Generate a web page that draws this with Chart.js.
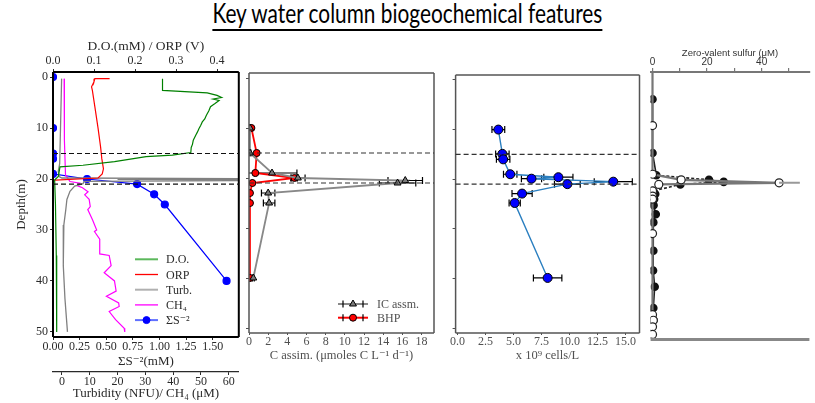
<!DOCTYPE html>
<html>
<head>
<meta charset="utf-8">
<script src="https://cdn.jsdelivr.net/npm/chart.js@4.4.0/dist/chart.umd.min.js"></script>
<style>
  body { margin: 0; background: #fff; width: 815px; height: 403px; overflow: hidden; position: relative; }
  #title { position: absolute; left: 0; top: -2px; width: 815px; text-align: center; font-family: Lato, 'Open Sans', sans-serif; font-size: 26px; line-height: 30px; color: #000; }
  #title span { display: inline-block; text-decoration: underline; text-underline-offset: 6px; text-decoration-thickness: 1.5px; transform-origin: center; }
  canvas { position: absolute; }
</style>
</head>
<body>
<div id="title"><span>Key water column biogeochemical features</span></div>
<canvas id="c1" width="244" height="373" style="left:0;top:30px"></canvas>
<canvas id="c2" width="200" height="345" style="left:244px;top:30px"></canvas>
<canvas id="c3" width="195" height="345" style="left:450px;top:30px"></canvas>
<canvas id="c4" width="170" height="305" style="left:645px;top:40px"></canvas>
<script>
// ---- panel 1: profiles ----
const doDepth = [0.3, 2.6, 3.1, 3.6, 4.0, 4.3, 4.6, 5.2, 5.8, 6.6, 7.5, 8.2, 8.8, 9.5, 10.1, 10.8, 11.4, 12.4, 13.2, 13.8, 14.8, 15.3, 15.6, 16.6, 17.3, 17.6, 19.5, 20.2, 25, 35, 50];
const doVal = [0.267, 0.267, 0.376, 0.40, 0.411, 0.39, 0.405, 0.395, 0.384, 0.38, 0.374, 0.37, 0.364, 0.36, 0.356, 0.352, 0.348, 0.342, 0.34, 0.337, 0.336, 0.291, 0.227, 0.15, 0.073, 0.017, 0.013, 0.004, 0.006, 0.008, 0.009];
const orpDepth = [0.3, 0.3, 0.9, 1.9, 2.6, 5.8, 10.1, 13.7, 16, 18, 19, 19.8, 20.2, 20.5, 50];
const orpVal = [0.138, 0.102, 0.10, 0.094, 0.096, 0.102, 0.11, 0.116, 0.119, 0.123, 0.12, 0.11, 0.005, -0.02, -0.02];
const turbDepth = [0.3, 10, 17, 18.5, 19.5, 19.8, 19.95, 20.05, 20.15, 20.3, 20.45, 20.9, 21.4, 22.4, 24, 26, 29, 37, 43.5, 50];
const turbVal = [-0.1, -0.5, -0.8, -1.3, -1.0, 0, 70, 20, 70, 70, 8, 7.6, 4.6, 2.9, 1.8, 1.4, 0.7, 0.5, 1.1, 2.0];
const ch4Depth = [0.3, 12.4, 19.2, 20.5, 20.8, 21.3, 21.7, 22.5, 23.1, 24, 25.4, 26, 28, 30, 30.3, 31.8, 34.7, 35, 37, 38.4, 40, 42, 43, 44.3, 45, 46, 47.6, 49.3, 50];
const ch4Val = [0.8, 0.9, 1.3, 2.9, 6.4, 5.5, 7.4, 9.4, 8.2, 9.8, 10.2, 9.3, 11, 12.5, 11.7, 13.6, 13.6, 17, 17.7, 15.2, 18.9, 19.5, 16, 20.4, 20.6, 17, 19.3, 22.4, 22.6];
const sulfDepth = [0, 10, 15, 16, 19, 20, 21, 23, 25, 40];
const sulfVal = [0, 0, 0, 0, 0, 0.32, 0.79, 0.95, 1.05, 1.63];
const chemoclineDepths = [15, 21];

// ---- panel 2: carbon assimilation ----
const icDepth = [10, 15, 19, 20, 20.5, 21, 23, 25, 40];
const icVal = [0.1, 0.1, 2.4, 5.1, 16.3, 15.5, 2.0, 2.1, 0.45];
const icErr = [0.05, 0.1, 2.6, 0.75, 1.8, 1.9, 0.7, 0.6, 0.1];
const bhpDepth = [10, 15, 19, 20, 21, 23, 25, 40];
const bhpVal = [0.25, 0.8, 0.66, 4.75, 0.35, 0.1, 0.1, 0.1];
const bhpErr = [0.05, 0.1, 0.1, 0.3, 0.05, 0.02, 0.02, 0.02];

// ---- panel 3: cell counts ----
const cellDepth = [10, 14.9, 16, 19, 19.6, 19.9, 20.5, 21, 22.9, 24.8, 39.9];
const cellVal = [3.64, 4.0, 4.07, 4.7, 9.0, 6.6, 13.9, 9.8, 5.76, 5.1, 8.04];
const cellErr = [0.57, 0.6, 0.6, 0.6, 1.3, 0.9, 1.7, 1.15, 0.9, 0.5, 1.27];

// ---- panel 4: zero-valent sulfur ----
const zvsFillDepth = [3.8, 14.4, 18.8, 19.7, 20.1, 20.6, 21.9, 22.5, 23.5, 24.7, 26.5, 28.1, 33.7, 37.6, 40.8, 45, 47.4];
const zvsFillVal = [0, 0, 1.4, 20.7, 26.1, 10.2, 0.3, 1.0, 0.6, 0.4, 1.2, 0.3, 0.3, 0.2, 0.8, 0.3, 0.4];
const zvsOpenDepth = [-1.5, 9, 18.6, 19.7, 20.3, 20.6, 21.9, 22.9, 23.5, 30.3, 46.3, 47.4, 48.7, 50.2];
const zvsOpenVal = [0, 0, 0, 10.5, 46.4, 2.3, 0, 0, 0, 0, 0, 0.3, 0, 0];
const zvsTailDepth = [20.3, 20.3];
const zvsTailVal = [46.4, 54];

const serif = "'Liberation Serif','DejaVu Serif',serif";
const sans = "'Liberation Sans',Arial,sans-serif";
const pts = (xs, ys) => xs.map((v, i) => ({x: v, y: ys[i]}));

const boxPlugin = {
  id: 'box',
  afterDatasetsDraw(chart, args, o) {
    if (!o.color) return;
    const {ctx, chartArea: a} = chart;
    ctx.save();
    ctx.strokeStyle = o.color;
    ctx.lineWidth = o.width;
    ctx.beginPath();
    const s = o.sides || 'tlrb';
    if (s.includes('t')) { ctx.moveTo(a.left, a.top); ctx.lineTo(a.right, a.top); }
    if (s.includes('b')) { ctx.moveTo(a.left, a.bottom); ctx.lineTo(a.right, a.bottom); }
    if (s.includes('l')) { ctx.moveTo(a.left, a.top); ctx.lineTo(a.left, a.bottom); }
    if (s.includes('r')) { ctx.moveTo(a.right, a.top); ctx.lineTo(a.right, a.bottom); }
    ctx.stroke();
    ctx.restore();
  }
};

const hlinePlugin = {
  id: 'hlines',
  afterDatasetsDraw(chart, args, o) {
    if (!o.depths) return;
    const {ctx, chartArea: a} = chart;
    const y = chart.scales.y;
    ctx.save();
    ctx.strokeStyle = o.color || '#222';
    ctx.lineWidth = 1.1;
    ctx.setLineDash([5, 3]);
    o.depths.forEach(d => {
      const py = y.getPixelForValue(d);
      ctx.beginPath(); ctx.moveTo(a.left, py); ctx.lineTo(a.right, py); ctx.stroke();
    });
    ctx.restore();
  }
};

const errPlugin = {
  id: 'errbars',
  beforeDatasetsDraw(chart) {
    const {ctx, chartArea: a} = chart;
    ctx.save();
    ctx.beginPath(); ctx.rect(a.left, a.top, a.right - a.left, a.bottom - a.top); ctx.clip();
    chart.data.datasets.forEach(ds => {
      if (!ds.errX) return;
      const xs = chart.scales[ds.xAxisID || 'x'], ys = chart.scales.y;
      ctx.strokeStyle = ds.errColor || '#000';
      ctx.lineWidth = 1.2;
      ds.data.forEach((p, i) => {
        const e = ds.errX[i];
        const x0 = xs.getPixelForValue(p.x - e), x1 = xs.getPixelForValue(p.x + e), py = ys.getPixelForValue(p.y);
        ctx.beginPath();
        ctx.moveTo(x0, py); ctx.lineTo(x1, py);
        ctx.moveTo(x0, py - 3.5); ctx.lineTo(x0, py + 3.5);
        ctx.moveTo(x1, py - 3.5); ctx.lineTo(x1, py + 3.5);
        ctx.stroke();
      });
    });
    ctx.restore();
  }
};

const keyPlugin = {
  id: 'keys',
  afterDraw(chart, args, o) {
    if (!o.items) return;
    const {ctx, chartArea: a} = chart;
    ctx.save();
    ctx.font = o.font;
    ctx.textBaseline = 'middle';
    o.items.forEach((it, i) => {
      const x0 = a.left + o.x, x1 = x0 + o.len, y = a.top + o.y + i * o.dy;
      ctx.strokeStyle = it.color; ctx.lineWidth = it.width || 2;
      ctx.beginPath(); ctx.moveTo(x0, y); ctx.lineTo(x1, y); ctx.stroke();
      const mx = (x0 + x1) / 2;
      if (it.caps) {
        ctx.strokeStyle = '#000'; ctx.lineWidth = 1.2;
        ctx.beginPath();
        [mx - it.caps, mx + it.caps].forEach(cx => { ctx.moveTo(cx, y - 3.5); ctx.lineTo(cx, y + 3.5); });
        ctx.stroke();
      }
      if (it.marker) {
        ctx.fillStyle = it.fill; ctx.strokeStyle = it.edge || it.fill; ctx.lineWidth = 1;
        Chart.helpers.drawPoint(ctx, {pointStyle: it.marker, radius: it.r || 3.5, borderWidth: 1, rotation: 0}, mx, y);
      }
      ctx.fillStyle = o.textColor;
      ctx.fillText(it.label, x1 + o.gap, y + 1);
    });
    ctx.restore();
  }
};

const plugins = [boxPlugin, hlinePlugin, errPlugin, keyPlugin];
const depthAxis = (width, labels, color) => ({
  type: 'linear', reverse: true, min: -1, max: 51,
  ticks: {stepSize: 10, includeBounds: false, padding: 2, color, font: {family: serif, size: 12}, callback: v => labels ? v : ''},
  grid: {drawOnChartArea: false, tickLength: 3, color},
  border: {display: false},
  afterFit: s => { s.width = width; }
});
const common = {responsive: false, animation: false, events: []};

// ---- chart 1 ----
const dark = '#2a2a2a';
const p1y = depthAxis(53, true, dark);
p1y.title = {display: true, text: 'Depth(m)', color: dark, font: {family: serif, size: 13}, padding: {top: 14, bottom: 0}};
new Chart(document.getElementById('c1'), {
  type: 'scatter',
  plugins,
  data: {datasets: [
    {data: pts(doVal, doDepth), xAxisID: 'xTop', borderColor: '#008000', borderWidth: 1.2, pointRadius: 0, showLine: true},
    {data: pts(orpVal, orpDepth), xAxisID: 'xTop', borderColor: '#ff0000', borderWidth: 1.2, pointRadius: 0, showLine: true},
    {data: pts(turbVal, turbDepth), xAxisID: 'xTurb', borderColor: '#808080', borderWidth: 1.3, pointRadius: 0, showLine: true},
    {data: pts(ch4Val, ch4Depth), xAxisID: 'xTurb', borderColor: '#ff00ff', borderWidth: 1.2, pointRadius: 0, showLine: true},
    {data: pts(sulfVal, sulfDepth), xAxisID: 'x', borderColor: '#0000ff', backgroundColor: '#0000ff', borderWidth: 1.2, pointRadius: 3.5, showLine: true}
  ]},
  options: {
    ...common,
    layout: {padding: {left: 0, right: 4, top: 0, bottom: 0}},
    scales: {
      y: p1y,
      xTop: {
        type: 'linear', position: 'top', min: 0, max: 0.453,
        ticks: {stepSize: 0.1, includeBounds: false, padding: 1, color: dark, font: {family: serif, size: 12}, callback: v => v.toFixed(1)},
        grid: {drawOnChartArea: false, tickLength: 3, color: dark}, border: {display: false},
        title: {display: true, text: 'D.O.(mM) / ORP (V)', color: dark, font: {family: serif, size: 13.5}, padding: {top: 8, bottom: 0}},
        afterFit: s => { s.height = 42; }
      },
      x: {
        type: 'linear', position: 'bottom', weight: 0, min: 0, max: 1.745,
        ticks: {stepSize: 0.25, includeBounds: false, padding: 0, color: dark, font: {family: serif, size: 12}, callback: v => v.toFixed(2)},
        grid: {drawOnChartArea: false, tickLength: 3, color: dark}, border: {display: false},
        title: {display: true, text: 'ΣS⁻²(mM)', color: dark, font: {family: serif, size: 13}, padding: {top: 0, bottom: 3}},
        afterFit: s => { s.height = 35; }
      },
      xTurb: {
        type: 'linear', position: 'bottom', weight: 1, min: -3.2, max: 63.6,
        ticks: {stepSize: 10, includeBounds: false, padding: 0, color: dark, font: {family: serif, size: 12}},
        grid: {drawOnChartArea: false, tickLength: 3, color: dark}, border: {display: true, color: dark, width: 1.2},
        title: {display: true, text: 'Turbidity (NFU)/ CH₄ (μM)', color: dark, font: {family: serif, size: 13}, padding: {top: 0, bottom: 2}},
        afterFit: s => { s.height = 31; }
      }
    },
    plugins: {
      legend: {display: false}, tooltip: {enabled: false},
      box: {color: '#000', width: 2},
      hlines: {depths: chemoclineDepths, color: '#111'},
      keys: {
        x: 82, y: 187.3, dy: 15.2, len: 23, gap: 8, font: `12px ${serif}`, textColor: dark,
        items: [
          {label: 'D.O.', color: '#5cb85c'},
          {label: 'ORP', color: '#ff0000', width: 1.3},
          {label: 'Turb.', color: '#b0b0b0'},
          {label: 'CH₄', color: '#ff00ff', width: 1.3},
          {label: 'ΣS⁻²', color: '#6070ff', marker: 'circle', fill: '#0000ff', r: 3.5}
        ]
      }
    }
  }
});

// ---- chart 2 ----
const mid = '#505050';
new Chart(document.getElementById('c2'), {
  type: 'scatter',
  plugins,
  data: {datasets: [
    {data: pts(icVal, icDepth), errX: icErr, borderColor: '#888', borderWidth: 1.8, pointStyle: 'triangle', pointRadius: 4,
     backgroundColor: '#7a7a7a', pointBorderColor: '#000', pointBorderWidth: 1, showLine: true},
    {data: pts(bhpVal, bhpDepth), errX: bhpErr, borderColor: '#ff0000', borderWidth: 1.8, pointRadius: 3.5,
     backgroundColor: '#ff0000', pointBorderColor: '#000', pointBorderWidth: 1, showLine: true}
  ]},
  options: {
    ...common,
    layout: {padding: {left: 0, right: 10, top: 43, bottom: 0}},
    scales: {
      y: depthAxis(4, false, mid),
      x: {
        type: 'linear', position: 'bottom', min: 0, max: 19.3,
        ticks: {stepSize: 2, includeBounds: false, padding: 0, color: mid, font: {family: serif, size: 12}},
        grid: {drawOnChartArea: false, tickLength: 2, color: mid}, border: {display: false},
        title: {display: true, text: 'C assim. (μmoles C L⁻¹ d⁻¹)', color: mid, font: {family: serif, size: 12.5}, padding: {top: 0, bottom: 12}},
        afterFit: s => { s.height = 42; }
      }
    },
    plugins: {
      legend: {display: false}, tooltip: {enabled: false},
      box: {color: '#555', width: 1.5},
      hlines: {depths: chemoclineDepths, color: '#333'},
      keys: {
        x: 89, y: 231, dy: 13.7, len: 30, gap: 9, font: `12px ${serif}`, textColor: mid,
        items: [
          {label: 'IC assm.', color: '#888', caps: 10, marker: 'triangle', fill: '#7a7a7a', edge: '#000', r: 4},
          {label: 'BHP', color: '#ff0000', caps: 10, marker: 'circle', fill: '#ff0000', edge: '#000', r: 3.5}
        ]
      }
    }
  }
});

// ---- chart 3 ----
new Chart(document.getElementById('c3'), {
  type: 'scatter',
  plugins,
  data: {datasets: [
    {data: pts(cellVal, cellDepth), errX: cellErr, borderColor: '#2b7fc0', borderWidth: 1.4, pointRadius: 4.5,
     backgroundColor: '#0000ff', pointBorderColor: '#000', pointBorderWidth: 1, showLine: true}
  ]},
  options: {
    ...common,
    layout: {padding: {left: 0, right: 5, top: 45, bottom: 0}},
    scales: {
      y: depthAxis(2, false, mid),
      x: {
        type: 'linear', position: 'bottom', min: -0.175, max: 16.24,
        ticks: {stepSize: 2.5, includeBounds: false, padding: 0, color: mid, font: {family: serif, size: 12}, callback: v => v.toFixed(1)},
        grid: {drawOnChartArea: false, tickLength: 2, color: mid}, border: {display: false},
        title: {display: true, text: 'x 10⁹ cells/L', color: mid, font: {family: serif, size: 12.5}, padding: {top: 0, bottom: 12}},
        afterFit: s => { s.height = 42; }
      }
    },
    plugins: {
      legend: {display: false}, tooltip: {enabled: false},
      box: {color: '#555', width: 1.5},
      hlines: {depths: chemoclineDepths, color: '#333'}
    }
  }
});

// ---- chart 4 ----
new Chart(document.getElementById('c4'), {
  type: 'scatter',
  plugins,
  data: {datasets: [
    {data: pts(zvsTailVal, zvsTailDepth), borderColor: '#999', borderWidth: 2, pointRadius: 0, showLine: true},
    {data: pts(zvsOpenVal, zvsOpenDepth), borderColor: '#777', borderWidth: 2.2, pointRadius: zvsOpenDepth.map(d => (d < 0 ? 0 : 4)),
     backgroundColor: '#fff', pointBorderColor: '#222', pointBorderWidth: 1.2, showLine: true},
    {data: pts(zvsFillVal, zvsFillDepth), borderColor: '#222', borderWidth: 1.6, pointRadius: 3.5,
     backgroundColor: '#111', pointBorderColor: '#111', showLine: true,
     segment: {borderDash: c => (Math.max(c.p0.parsed.x, c.p1.parsed.x) > 5 ? [3, 2] : undefined)}}
  ]},
  options: {
    ...common,
    layout: {padding: {left: 3, right: 0, top: 0, bottom: 4}},
    scales: {
      y: {type: 'linear', reverse: true, min: -1.57, max: 51.18, display: false},
      x: {
        type: 'linear', position: 'top', min: -0.7, max: 57.5,
        ticks: {stepSize: 10, includeBounds: false, padding: 0, color: '#333', font: {family: sans, size: 10}, callback: v => (v % 20 === 0 ? v : '')},
        grid: {drawOnChartArea: false, tickLength: 4, color: '#777', lineWidth: 1.2}, border: {display: true, color: '#777', width: 2},
        title: {display: true, text: 'Zero-valent sulfur (μM)', color: '#333', font: {family: sans, size: 9.5}, padding: {top: 8, bottom: 0}},
        afterFit: s => { s.height = 32; }
      }
    },
    plugins: {
      legend: {display: false}, tooltip: {enabled: false},
      box: {color: '#888', width: 3, sides: 'b'}
    }
  }
});

// fit the heading to the width it has in the figure
const head = document.querySelector('#title span');
head.style.transform = `scaleX(${390 / head.getBoundingClientRect().width})`;
</script>
</body>
</html>
